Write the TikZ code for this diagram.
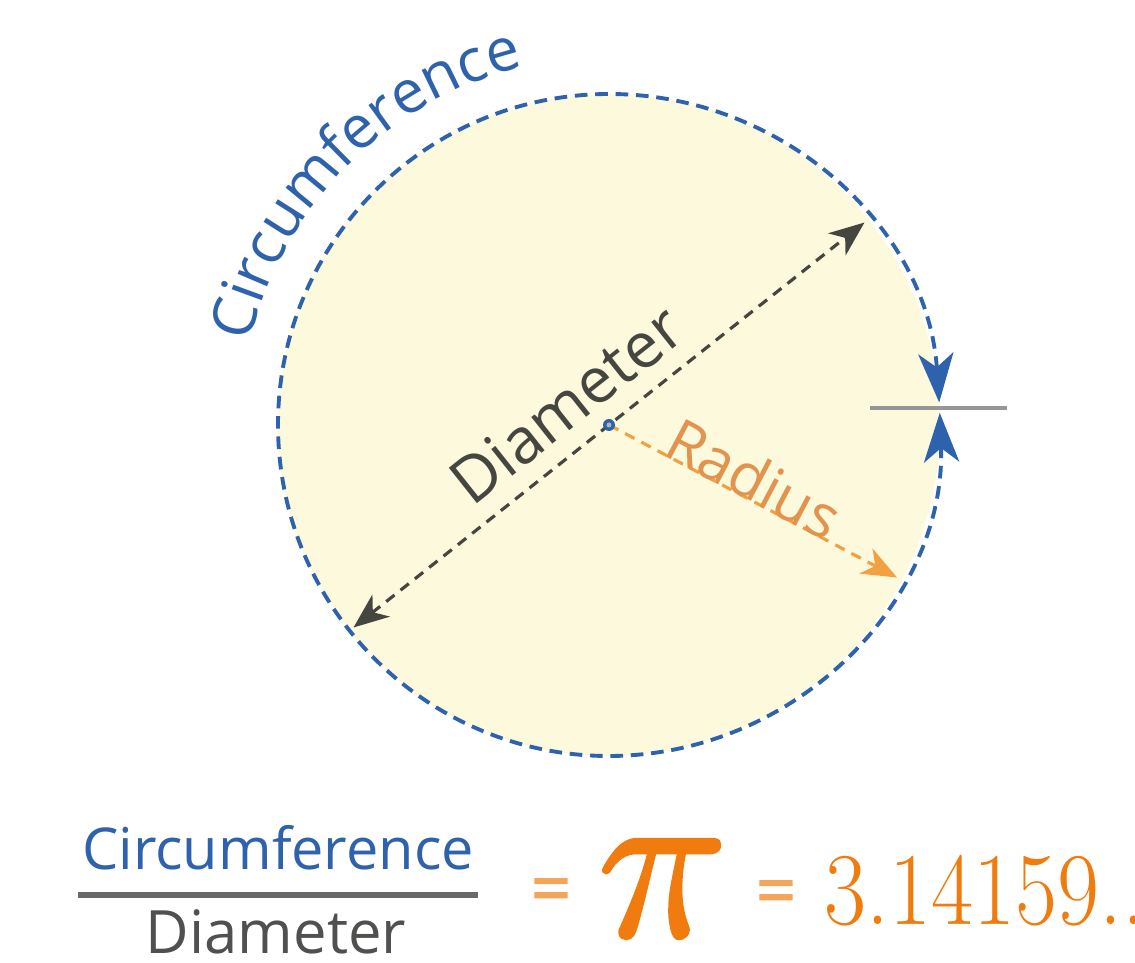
\documentclass[tikz,border=0pt]{standalone}
\usepackage{fontspec}
\setsansfont{Open Sans}
\newfontfamily\pifont[FakeBold=1.6]{Latin Modern Math}
\newfontfamily\eqfont[FakeBold=2]{Open Sans}
\usetikzlibrary{arrows.meta,decorations.text}
\definecolor{bluec}{RGB}{46,98,172}
\definecolor{fillc}{RGB}{253,249,221}
\definecolor{darkc}{RGB}{70,70,64}
\definecolor{radline}{RGB}{243,160,64}
\definecolor{radtext}{RGB}{226,148,78}
\definecolor{pior}{RGB}{240,123,14}
\definecolor{eqor}{RGB}{244,165,92}
\definecolor{tangray}{RGB}{150,150,150}
\definecolor{fracgray}{RGB}{105,105,105}
\definecolor{dtext}{RGB}{80,80,78}
\begin{document}
\begin{tikzpicture}[x=0.01cm,y=0.01cm,
  bluearc/.style={draw=bluec, line width=1.1pt, dash pattern=on 3.6pt off 2.2pt},
  diamline/.style={draw=darkc, line width=0.9pt, dash pattern=on 3pt off 2.2pt},
  radiusline/.style={draw=radline, line width=0.9pt, dash pattern=on 3pt off 2.2pt},
  tanline/.style={draw=tangray, line width=1.4pt},
  fracline/.style={draw=fracgray, line width=1.7pt},
  lbl/.style={font=\sffamily, inner sep=0pt},
]
\useasboundingbox (0,0) rectangle (1135,963);
\coordinate (C) at (609,538);
\fill[fillc] (C) circle[radius=331];
% tangent tick
\coordinate (T1) at (870,555);
\coordinate (T2) at (1007,555);
\draw[tanline] (T1) -- (T2);
% circumference
\draw[bluearc, {Stealth[length=14pt,width=10pt,inset=4pt]}-{Stealth[length=14pt,width=10pt,inset=4pt]}]
  (C) ++(3.9:331) arc[start angle=3.9, end angle=362.1, radius=331];
% diameter
\path (C) ++(218.4:326) coordinate (D1);
\path (C) ++(38.4:326) coordinate (D2);
\draw[diamline, {Stealth[length=10pt,width=8pt,inset=3pt]}-{Stealth[length=10pt,width=8pt,inset=3pt]}]
  (D1) -- node[pos=0.468, sloped, above=5pt, lbl, text=darkc, font=\sffamily\fontsize{18}{20}\selectfont] (dlab) {Diameter} (D2);
% radius
\path (C) ++(-27.9:326) coordinate (R1);
\draw[radiusline, -{Stealth[length=10pt,width=8pt,inset=3pt]}]
  (C) -- node[pos=0.47, sloped, above=-1pt, lbl, text=radtext, font=\sffamily\fontsize{17}{19}\selectfont] (rlab) {Radius} (R1);
% centre dot
\fill[bluec] (C) circle[radius=6];
\fill[gray!60] (C) circle[radius=2.5];
% arc label
\path[decorate, decoration={text along path,
  text={|\sffamily\fontsize{17}{19}\selectfont\color{bluec}|Circumference}}]
  (C) ++(167:368) arc[start angle=167, end angle=85, radius=368];
% formula
\node[lbl, anchor=base, text=bluec, font=\sffamily\fontsize{16.4}{18}\selectfont] (fc) at (278,93) {Circumference};
\coordinate (F1) at (78,68);
\coordinate (F2) at (478,68);
\draw[fracline] (F1) -- (F2);
\node[lbl, anchor=base, text=dtext, font=\sffamily\fontsize{17}{19}\selectfont] (fd) at (276,9) {Diameter};
\node[inner sep=0pt, anchor=base, text=eqor] (eq1) at (551,50) {\eqfont\fontsize{20}{22}\selectfont =};
\node[inner sep=0pt, text=pior] (pi) at (659,74) {\scalebox{1.15}[1.2]{\pifont\fontsize{53}{53}\selectfont 𝜋}};
\node[inner sep=0pt, anchor=base, text=eqor] (eq2) at (776,48) {\eqfont\fontsize{20}{22}\selectfont =};
\node[inner sep=0pt, anchor=base west, text=pior] (num) at (824,38) {\scalebox{1}[1.13]{\rmfamily\fontsize{26}{26}\selectfont 3.14159..}};
\end{tikzpicture}
\end{document}
